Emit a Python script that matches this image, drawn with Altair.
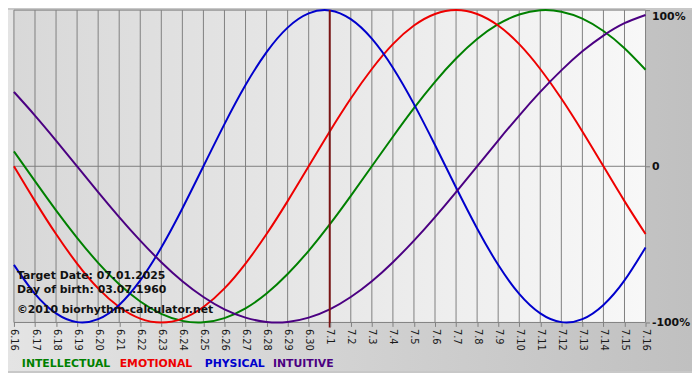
import altair as alt
import pandas as pd

days = ["6.16", "6.17", "6.18", "6.19", "6.20", "6.21", "6.22", "6.23", "6.24", "6.25",
        "6.26", "6.27", "6.28", "6.29", "6.30", "7.1", "7.2", "7.3", "7.4", "7.5",
        "7.6", "7.7", "7.8", "7.9", "7.10", "7.11", "7.12", "7.13", "7.14", "7.15", "7.16"]

intellectual = [9.5, -9.5, -28.2, -45.8, -61.8, -75.6, -86.6, -94.5, -99.0, -99.9,
                -97.2, -91.0, -81.5, -69.0, -54.1, -37.2, -18.9, 0.0, 18.9, 37.2,
                54.1, 69.0, 81.5, 91.0, 97.2, 99.9, 99.0, 94.5, 86.6, 75.6, 61.8]
emotional = [0.0, -22.3, -43.4, -62.3, -78.2, -90.1, -97.5, -100.0, -97.5, -90.1,
             -78.2, -62.3, -43.4, -22.3, 0.0, 22.3, 43.4, 62.3, 78.2, 90.1,
             97.5, 100.0, 97.5, 90.1, 78.2, 62.3, 43.4, 22.3, 0.0, -22.3, -43.4]
physical = [-63.1, -81.7, -94.2, -99.8, -97.9, -88.8, -73.1, -52.0, -27.0, 0.0,
            27.0, 52.0, 73.1, 88.8, 97.9, 99.8, 94.2, 81.7, 63.1, 39.8,
            13.6, -13.6, -39.8, -63.1, -81.7, -94.2, -99.8, -97.9, -88.8, -73.1, -52.0]
intuitive = [47.6, 32.5, 16.5, 0.0, -16.5, -32.5, -47.6, -61.4, -73.6, -83.7,
             -91.6, -96.9, -99.7, -99.7, -96.9, -91.6, -83.7, -73.6, -61.4, -47.6,
             -32.5, -16.5, 0.0, 16.5, 32.5, 47.6, 61.4, 73.6, 83.7, 91.6, 96.9]

series_names = ["INTELLECTUAL", "EMOTIONAL", "PHYSICAL", "INTUITIVE"]
series_colors = ["#008000", "#ee0000", "#0000cc", "#4b0082"]
target_day = "7.1"
y_ticks = [-100, 0, 100]
footer_lines = ["Target Date: 07.01.2025", "Day of birth: 03.07.1960", "\u00a92010 biorhythm-calculator.net"]

PL = 6
W, H = 639, 316
CW, CH = 692, 365
FONT = "DejaVu Sans"

rows = []
for name, vals in zip(series_names, [intellectual, emotional, physical, intuitive]):
    for d, v in zip(days, vals):
        rows.append({"series": name, "day": d, "value": v})
df = pd.DataFrame(rows)
days_df = pd.DataFrame({"day": days})
yt_df = pd.DataFrame({"v": y_ticks})
one = pd.DataFrame({"a": [1]})

xscale = alt.Scale(type="point", padding=0, domain=days)
yscale = alt.Scale(domain=[-100, 100], nice=False, zero=False)

xaxis = alt.Axis(labelAngle=90, labelFont=FONT, labelFontSize=10, labelColor="#1a1a1a",
                 tickSize=4, tickColor="#808080", domain=False, grid=False,
                 labelPadding=2, title=None, labelOverlap=False, zindex=1)
yaxis = alt.Axis(orient="right", values=y_ticks, labelFont=FONT, labelFontSize=11,
                 labelFontWeight="bold", labelColor="#111111", tickSize=4,
                 tickColor="#808080", domain=False, grid=False, labelPadding=2,
                 title=None, zindex=1,
                 labelExpr="datum.value == 0 ? '0' : datum.value + '%'",
                 labelBaseline={"condition": {"test": "datum.value == 100", "value": "top"},
                                "value": "middle"})

outer_bg = alt.Chart(one).mark_rect(
    fill={"gradient": "linear", "x1": 0, "x2": 1, "y1": 0, "y2": 0,
          "stops": [{"offset": 0, "color": "#e4e4e4"}, {"offset": 1, "color": "#c0c0c0"}]}
).encode(x=alt.value(-PL), x2=alt.value(CW - PL), y=alt.value(0), y2=alt.value(CH))

plot_bg = alt.Chart(one).mark_rect(
    fill={"gradient": "linear", "x1": 0, "x2": 1, "y1": 0, "y2": 0,
          "stops": [{"offset": 0, "color": "#d8d8d8"}, {"offset": 1, "color": "#f8f8f8"}]}
).encode(x=alt.value(0), x2=alt.value(W), y=alt.value(0), y2=alt.value(H))

vgrid = alt.Chart(days_df).mark_rule(color="#808080", strokeWidth=1).encode(
    x=alt.X("day:O", scale=xscale, axis=xaxis, sort=days))

hgrid = alt.Chart(yt_df).mark_rule(color="#808080", strokeWidth=1).encode(
    y=alt.Y("v:Q", scale=yscale, axis=yaxis))

lines = alt.Chart(df).mark_line(strokeWidth=2, interpolate="natural").encode(
    x=alt.X("day:O", scale=xscale, axis=xaxis, sort=days),
    y=alt.Y("value:Q", scale=yscale, axis=yaxis),
    color=alt.Color("series:N", scale=alt.Scale(domain=series_names, range=series_colors), legend=None),
    detail="series:N")

target = alt.Chart(pd.DataFrame({"day": [target_day]})).mark_rule(
    color="#7a1414", strokeWidth=2).encode(
    x=alt.X("day:O", scale=xscale, axis=xaxis, sort=days),
    y=alt.value(0), y2=alt.value(H + 5))

layers = [outer_bg, plot_bg, vgrid, hgrid, lines, target]

footer_y = [272, 286, 306]
for txt, yy in zip(footer_lines, footer_y):
    layers.append(alt.Chart(pd.DataFrame({"t": [txt]})).mark_text(
        align="left", baseline="alphabetic", font=FONT, fontWeight="bold",
        fontSize=11, color="#111111").encode(
        x=alt.value(3), y=alt.value(yy), text="t:N"))

legend_x = [8, 107, 193, 262]
for name, col, xx in zip(series_names, series_colors, legend_x):
    layers.append(alt.Chart(pd.DataFrame({"t": [name]})).mark_text(
        align="left", baseline="alphabetic", font=FONT, fontWeight="bold",
        fontSize=11, color=col).encode(
        x=alt.value(xx), y=alt.value(H + 45), text="t:N"))

chart = alt.layer(*layers).properties(
    width=W, height=H,
    padding={"left": PL, "top": 0, "right": CW - W - PL, "bottom": CH - H},
    autosize=alt.AutoSizeParams(type="none"),
    background="#c8c8c8",
).configure_view(stroke=None)

chart.save("out.html", embed_options={"renderer": "svg", "actions": False})
